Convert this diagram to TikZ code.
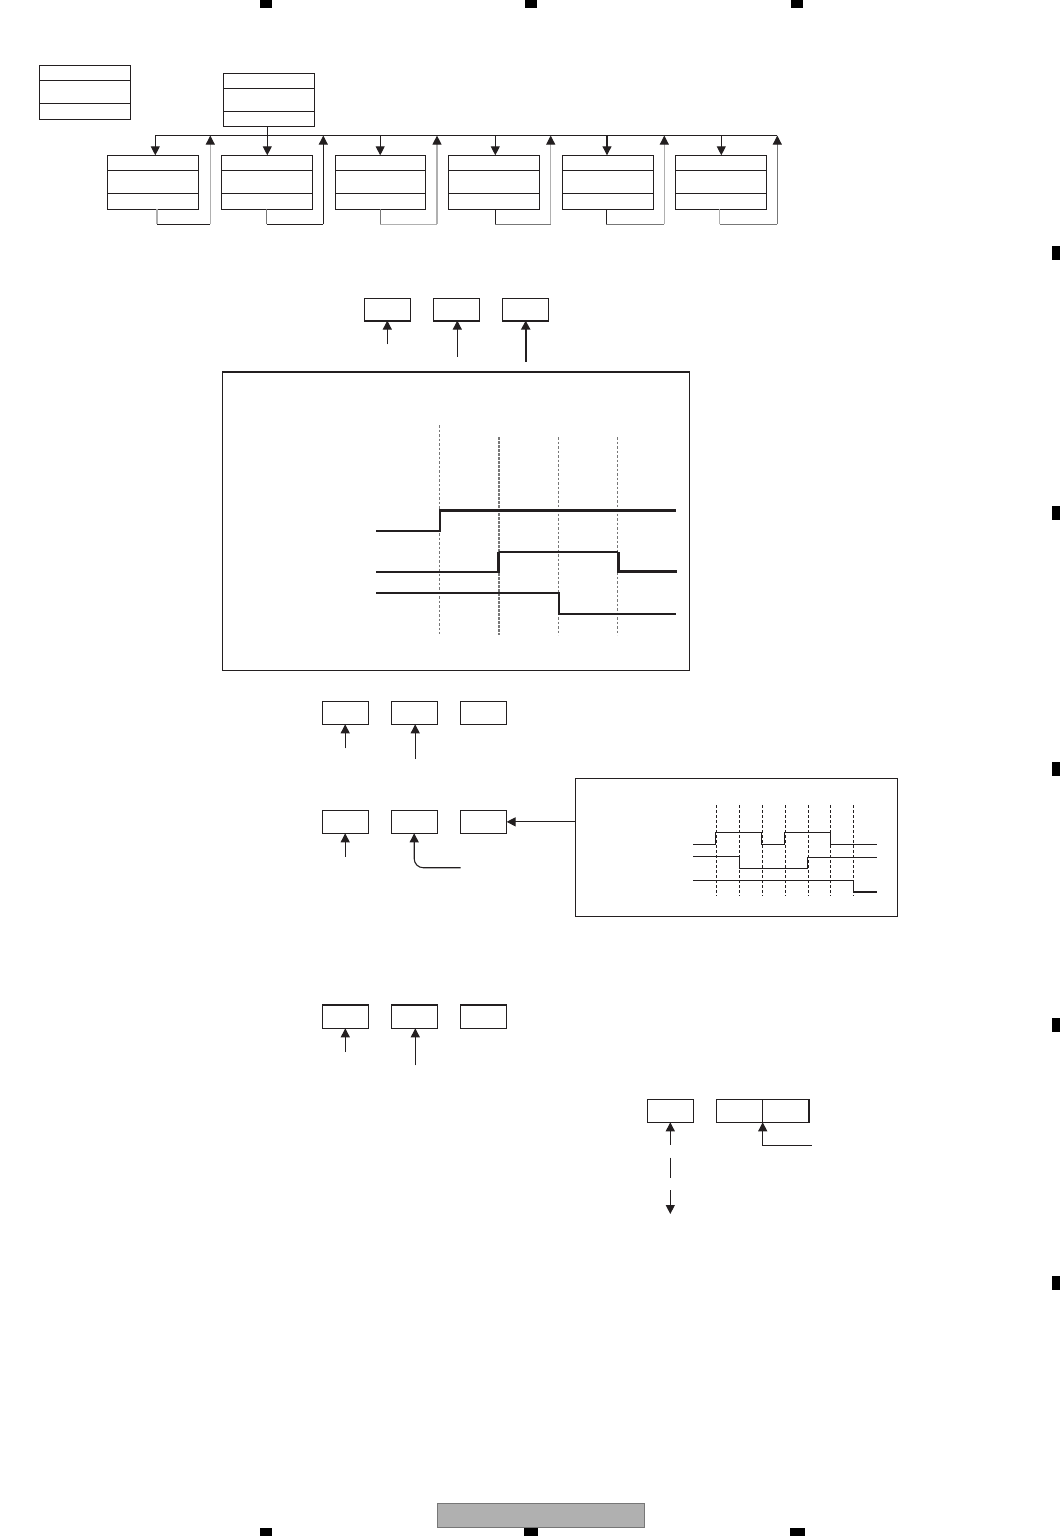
\documentclass[tikz,border=0pt]{standalone}
\usetikzlibrary{arrows.meta}
\definecolor{ink}{HTML}{231F20}
\definecolor{lg}{HTML}{B0B0B0}
\definecolor{mg}{HTML}{777777}
\tikzset{
  headtip/.tip={Triangle[length=9pt,width=9pt,color=ink]},
  boxst/.style={draw=ink,line width=1.2pt,fill=white,inner sep=0pt,outer sep=0pt,anchor=north west},
  ln/.style={draw=ink,line width=1.1pt},
  thickside/.style={draw=ink,line width=2pt},
  arr/.style={draw=ink,line width=1.1pt,-headtip},
  bigarr/.style={draw=ink,line width=2pt,-headtip},
  guide/.style={draw=mg,line width=.9pt,dash pattern=on 2.5pt off 2pt},
  guidebold/.style={draw=mg,line width=1.6pt,dash pattern=on 2.5pt off 1.5pt},
  guideblack/.style={draw=ink,line width=1pt,dash pattern=on 3pt off 2pt},
  wave/.style={draw=ink,line width=1.7pt},
  wavebold/.style={draw=ink,line width=2.6pt},
  wavethin/.style={draw=ink,line width=1.2pt},
  regmark/.style={fill=black,draw=none,inner sep=0pt,outer sep=0pt,anchor=north west},
}
\newcommand{\rbox}[5]{%
  \pgfmathsetlengthmacro{\rw}{(#4-#2)*1pt}%
  \pgfmathsetlengthmacro{\rh}{(#5-#3)*1pt}%
  \node[boxst,minimum width=\rw,minimum height=\rh] (#1) at (#2,#3) {};}
\begin{document}
\begin{tikzpicture}[x=1pt,y=-1pt]
\fill[white] (0,0) rectangle (1061,1536);
\useasboundingbox (0,0) rectangle (1061,1536);
% registration marks
\foreach \n/\a/\b/\c/\d in {t1/260/0/272/8,t2/525/0/537/8,t3/791/0/803/8,
  bm1/260/1528/272/1536,bm2/524/1528/538/1536,bm3/790/1528/805/1536,
  r1/1052/246/1060/260,r2/1052/506/1060/520,r3/1052/762/1060/776,r4/1052/1018/1060/1032,r5/1052/1276/1060/1290}{
  \pgfmathsetlengthmacro{\rw}{(\c-\a)*1pt}
  \pgfmathsetlengthmacro{\rh}{(\d-\b)*1pt}
  \node[regmark,minimum width=\rw,minimum height=\rh] (\n) at (\a,\b) {};
}
% footer bar
\node[draw=mg,line width=1pt,fill=lg,inner sep=0pt,outer sep=0pt,anchor=north west,minimum width=207pt,minimum height=24pt] (footer) at (437,1503) {};

% ---- top block
\rbox{legend}{39.4}{65.4}{130.4}{119.3}
\draw[ln] (legend.west |- 0,80.3) -- (legend.east |- 0,80.3);
\draw[ln] (legend.west |- 0,103.3) -- (legend.east |- 0,103.3);
\rbox{root}{223.4}{73.4}{314.4}{126.4}
\draw[ln] (root.west |- 0,88.3) -- (root.east |- 0,88.3);
\draw[ln] (root.west |- 0,111.3) -- (root.east |- 0,111.3);
\coordinate (busL) at (155.3,135.3);
\coordinate (busR) at (777.3,135.3);
\draw[ln] (busL) -- (busR);
\draw[ln] (267.3,126.4) -- (267.3,135.3);
\foreach \n/\xa/\xb/\dn/\st/\up/\cs/\cb/\cu in {
  c1/107.4/198.6/155.3/157/210.3/lg/ink/lg,
  c2/221.4/312.6/267.3/266.7/323.3/mg/ink/ink,
  c3/335.4/425.7/380.2/380.3/437/mg/lg/lg,
  c4/448.4/539.3/495.3/495.3/550.7/ink/mg/lg,
  c5/562.3/653.6/607/606.3/664.3/ink/mg/lg,
  c6/675.4/766.3/721.3/719.7/777.3/lg/mg/mg}{
  \rbox{\n}{\xa}{155.3}{\xb}{209.3}
  \draw[ln] (\n.west |- 0,170.3) -- (\n.east |- 0,170.3);
  \draw[ln] (\n.west |- 0,193.3) -- (\n.east |- 0,193.3);
  \draw[arr] (\dn,135.3) -- (\dn,155.3);
  \coordinate (\n s) at (\st,224.3);
  \coordinate (\n u) at (\up,224.3);
  \draw[draw=\cs,line width=1.1pt] (\n s |- \n.south) -- (\n s);
  \draw[draw=\cb,line width=1.1pt] (\n s) -- (\n u);
  \draw[draw=\cu,line width=1.1pt,-headtip] (\n u) -- (\up,135.6);
}

% ---- second block
\rbox{a1}{364.4}{298.4}{410.6}{320.6}
\rbox{a2}{433.4}{298.4}{479.6}{320.6}
\rbox{a3}{502.4}{298.4}{548.6}{320.6}
\foreach \n in {a1,a2,a3}{\draw[thickside] (\n.south west) -- (\n.south east);}
\coordinate (a1f) at (387.3,344.3);
\coordinate (a2f) at (457.3,356.7);
\coordinate (a3f) at (525.7,361.7);
\draw[arr] (a1f) -- (a1f |- a1.south);
\draw[arr] (a2f) -- (a2f |- a2.south);
\draw[bigarr] (a3f) -- (a3f |- a3.south);
\rbox{chartA}{222.4}{372}{689.6}{670.3}
\draw[thickside] (chartA.north west) -- (chartA.north east);
\draw[guide] (439.3,425) -- (439.3,634);
\draw[guidebold] (499,437) -- (499,635);
\draw[guide] (558.7,437) -- (558.7,635);
\draw[guide] (617.3,437) -- (617.3,635);
\draw[wave] (376,530.7) -- (440,530.7);
\draw[wavebold] (440,531.5) -- (440,510.3) -- (676,510.3);
\draw[wave] (376,571.7) -- (498.6,571.7);
\draw[wavebold] (498.6,572.5) -- (498.6,552);
\draw[wave] (498.6,552) -- (618.3,552);
\draw[wavebold] (618.3,552) -- (618.3,571.5) -- (677,571.5);
\draw[wave] (376,593) -- (559,593) -- (559,614) -- (676,614);

% ---- third block
\rbox{d1}{322.4}{701.4}{368.6}{724.3}
\rbox{d2}{391.4}{701.4}{437.6}{724.3}
\rbox{d3}{460.4}{701.4}{506.6}{724.3}
\coordinate (d1f) at (345.2,748.3);
\coordinate (d2f) at (415.2,759);
\draw[arr] (d1f) -- (d1f |- d1.south);
\draw[arr] (d2f) -- (d2f |- d2.south);
\rbox{e1}{322.4}{810.4}{368.6}{833.3}
\rbox{e2}{391.4}{810.4}{437.6}{833.3}
\rbox{e3}{460.4}{810.4}{506.6}{833.3}
\coordinate (e1f) at (345.2,856.7);
\coordinate (e2f) at (460.7,867.7);
\coordinate (e2c) at (414.2,867.7);
\draw[arr] (e1f) -- (e1f |- e1.south);
\draw[arr,rounded corners=9pt] (e2f) -- (e2c) -- (e2c |- e2.south);
\rbox{chartB}{575.5}{778.4}{897.2}{916.7}
\draw[arr] (chartB.west |- e3.east) -- (e3.east);
\foreach \x in {716.3,739.2,762.2,785.1,808.1,830.3,853.2}{
  \draw[guideblack] (\x,805) -- (\x,895.7);
}
\draw[wavethin] (693,844.7) -- (715.5,844.7) -- (715.5,832.3) -- (761.8,832.3) -- (761.8,844.7) -- (784.8,844.7) -- (784.8,832.3) -- (830.3,832.3) -- (830.3,844.7) -- (877,844.7);
\draw[wavethin] (693,856.7) -- (739.2,856.7) -- (739.2,868.3) -- (807.3,868.3) -- (807.3,857.3) -- (877,857.3);
\draw[wavethin] (693,880.3) -- (853.6,880.3) -- (853.6,892) -- (877,892);

% ---- fourth block
\rbox{f1}{322.4}{1005.4}{368.6}{1028.3}
\rbox{f2}{391.4}{1005.4}{437.6}{1028.3}
\rbox{f3}{460.4}{1005.4}{506.6}{1028.3}
\foreach \n in {f1,f2,f3}{\draw[thickside] (\n.north west) -- (\n.north east);}
\coordinate (f1f) at (345.3,1052);
\coordinate (f2f) at (415.3,1065.3);
\draw[arr] (f1f) -- (f1f |- f1.south);
\draw[arr] (f2f) -- (f2f |- f2.south);

% ---- fifth block
\rbox{g1}{647.4}{1099.4}{693.4}{1122.3}
\rbox{g2}{716.4}{1099.4}{809}{1122.3}
\draw[ln] (g2.north) -- (g2.south);
\draw[thickside] (g2.north east) -- (g2.south east);
\coordinate (g1a) at (670.3,1144.7);
\coordinate (g1b) at (670.3,1157.7);
\coordinate (g1c) at (670.3,1177.7);
\coordinate (g1d) at (670.3,1190);
\coordinate (g1e) at (670.3,1214);
\draw[arr] (g1a) -- (g1a |- g1.south);
\draw[ln] (g1b) -- (g1c);
\draw[arr] (g1d) -- (g1e);
\coordinate (g2f) at (811.7,1145.3);
\draw[arr] (g2f) -- (g2f -| g2.south) -- (g2.south);
\end{tikzpicture}
\end{document}
